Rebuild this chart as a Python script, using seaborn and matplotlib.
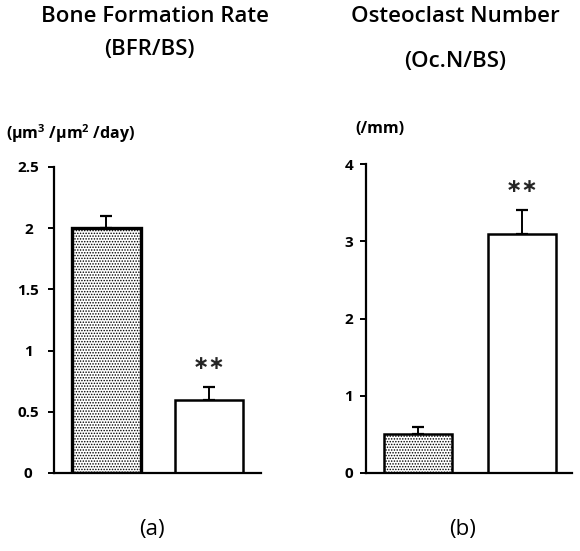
import matplotlib
matplotlib.use("Agg")
import matplotlib.pyplot as plt
import seaborn as sns
import numpy as np

# Group labels (not shown on the axes) and measured values with SEM
groups = ["Control", "Treated"]
bfr_mean = [2.0, 0.6]
bfr_sem = [0.1, 0.1]
ocn_mean = [0.5, 3.1]
ocn_sem = [0.1, 0.3]

bfr_ticks = [0, 0.5, 1, 1.5, 2, 2.5]
bfr_ticklabels = ["0", "0.5", "1", "1.5", "2", "2.5"]
ocn_ticks = [0, 1, 2, 3, 4]
ocn_ticklabels = ["0", "1", "2", "3", "4"]

sns.set_style("white")
plt.rcParams["font.family"] = ["Open Sans", "DejaVu Sans"]
plt.rcParams["hatch.linewidth"] = 0.7
plt.rcParams["mathtext.fontset"] = "custom"
plt.rcParams["mathtext.rm"] = "Open Sans:bold"
plt.rcParams["mathtext.bf"] = "Open Sans:bold"

W, H = 580, 551
fig = plt.figure(figsize=(W / 100, H / 100), dpi=100)


def px(x, y):
    return x / W, 1 - y / H


ax1 = fig.add_axes([54 / W, 78 / H, 207 / W, 306 / H])
ax2 = fig.add_axes([366 / W, 78 / H, 206 / W, 309 / H])


def draw_panel(ax, means, sems, width, ylim, ticks, ticklabels, xlim, pad, edge_lw):
    sns.barplot(x=groups, y=means, hue=groups, palette=["white", "white"],
                legend=False, width=width, edgecolor="black", linewidth=2.0,
                errorbar=None, ax=ax, zorder=2)
    bars = ax.patches
    bars[0].set_hatch("......")
    for b, lw in zip(bars, edge_lw):
        b.set_linewidth(lw)
    ax.errorbar([0, 1], means, yerr=[[0, 0], sems], fmt="none",
                ecolor="black", elinewidth=1.4, capsize=4, capthick=1.6,
                zorder=1)
    ax.set_xlim(*xlim)
    ax.set_ylim(*ylim)
    ax.set_yticks(ticks)
    ax.set_yticklabels(ticklabels, fontsize=11, fontweight="bold",
                       ha="center")
    ax.set_xticks([])
    ax.set_xlabel("")
    ax.set_ylabel("")
    for s in ["top", "right"]:
        ax.spines[s].set_visible(False)
    for s in ["left", "bottom"]:
        ax.spines[s].set_linewidth(1.6)
        ax.spines[s].set_color("black")
    ax.tick_params(axis="y", direction="out", length=4.5, width=1.4,
                   pad=pad, left=True, colors="black")
    ax.set_facecolor("white")
    # significance marks above the treated bar
    ax.annotate("∗∗", xy=(1, means[1] + sems[1]), xytext=(0, 17),
                textcoords="offset points", ha="center", va="center",
                fontsize=14, fontweight="bold", family="DejaVu Sans")


draw_panel(ax1, bfr_mean, bfr_sem, 0.67, (0, 2.5), bfr_ticks, bfr_ticklabels,
           (-0.512, 1.507), 14, [2.4, 1.8])
draw_panel(ax2, ocn_mean, ocn_sem, 0.65, (0, 4), ocn_ticks, ocn_ticklabels,
           (-0.5, 1.48), 8, [1.8, 1.8])

title_kw = dict(fontsize=16, fontweight="semibold", fontstyle="normal",
                ha="center", va="center", color="black")
fig.text(*px(155, 17), "Bone Formation Rate", **title_kw)
fig.text(*px(149, 50), "(BFR/BS)", **title_kw)
fig.text(*px(455, 17), "Osteoclast Number", **title_kw)
fig.text(*px(455, 61), "(Oc.N/BS)", **title_kw)

unit_kw = dict(fontsize=11.5, fontweight="bold", ha="left", va="center",
               color="black")
fig.text(*px(6, 134), r"(μm$^{3}$ /μm$^{2}$ /day)", **unit_kw)
fig.text(*px(355, 129), "(/mm)", **unit_kw)

label_kw = dict(fontsize=16, fontweight="normal", fontstyle="normal",
                ha="center", va="center", color="black")
fig.text(*px(152, 530), "(a)", **label_kw)
fig.text(*px(463, 530), "(b)", **label_kw)

fig.savefig("out.png", dpi=100, facecolor="white")
